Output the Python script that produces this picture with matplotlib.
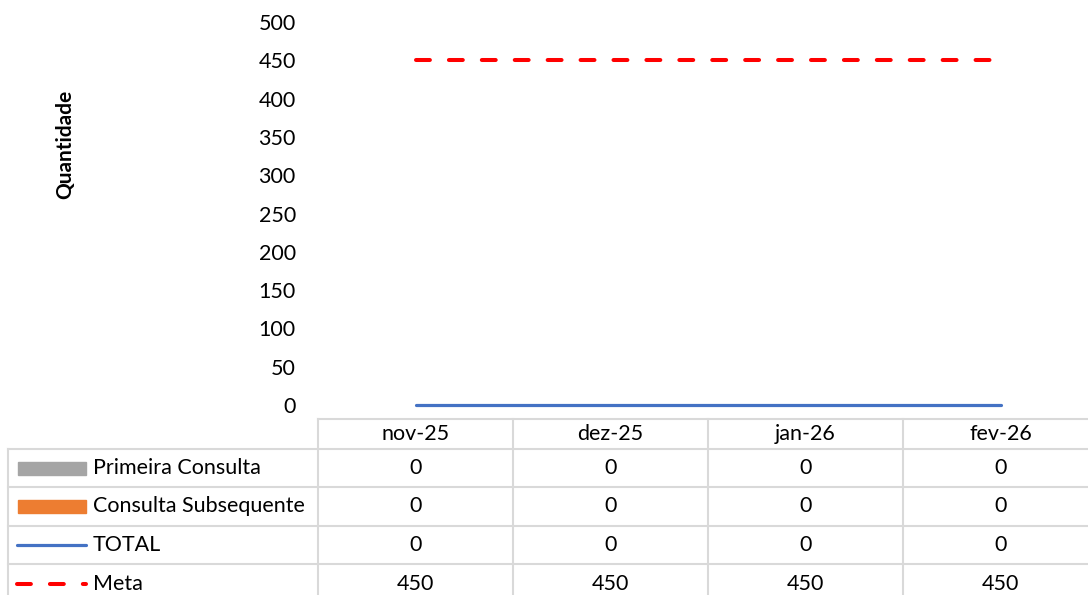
import numpy as np
import matplotlib.pyplot as plt
from matplotlib.lines import Line2D
from matplotlib.patches import Rectangle
import matplotlib.transforms as mtransforms

plt.rcParams['font.family'] = ['Lato', 'DejaVu Sans']
plt.rcParams['lines.scale_dashes'] = False

meses = ['nov-25', 'dez-25', 'jan-26', 'fev-26']
primeira = [0, 0, 0, 0]
subsequente = [0, 0, 0, 0]
total = [0, 0, 0, 0]
meta = [450, 450, 450, 450]
series_names = ['Primeira Consulta', 'Consulta Subsequente', 'TOTAL', 'Meta']

W, H = 1088, 595
fig = plt.figure(figsize=(W / 100, H / 100), dpi=100)
fs = 15.5

# plot area in pixels (right edge goes past the picture, as in the source)
x0, x1, ytop, ybot = 318, 1098, 22, 405
ax = fig.add_axes([x0 / W, 1 - ybot / H, (x1 - x0) / W, (ybot - ytop) / H])
x = np.arange(len(meses))

ax.bar(x - 0.15, primeira, width=0.3, color='#A5A5A5')
ax.bar(x + 0.15, subsequente, width=0.3, color='#ED7D31')
ax.plot(x, total, color='#4472C4', lw=2.3, solid_capstyle='round', clip_on=False)
ax.plot(x, meta, color='#FF0000', lw=2.9, dashes=(10, 13.7), dash_capstyle='round')

ax.set_xlim(-0.5, len(meses) - 0.5)
ax.set_ylim(0, 500)
ax.set_yticks(np.arange(0, 501, 50))
ax.tick_params(axis='y', length=0, pad=16, labelsize=fs, labelcolor='#000000')
ax.set_xticks([])
for s in ax.spines.values():
    s.set_visible(False)

fig.text(65 / W, 1 - 144 / H, 'Quantidade', rotation=90, ha='center', va='center',
         fontsize=15, fontweight='bold')

# data table below the plot
grid = '#D9D9D9'
rows_y = [419, 449, 487, 526, 564, 603]
col_x = [x0 + i * (x1 - x0) / len(meses) for i in range(len(meses) + 1)]

def fx(px):
    return px / W

def fy(py):
    return 1 - py / H

# horizontal lines
fig.add_artist(Line2D([fx(x0), fx(x1)], [fy(rows_y[0])] * 2, color=grid, lw=1.5))
for ry in rows_y[1:]:
    fig.add_artist(Line2D([fx(8), fx(x1)], [fy(ry)] * 2, color=grid, lw=1.5))
# vertical lines
fig.add_artist(Line2D([fx(8), fx(8)], [fy(rows_y[1]), fy(rows_y[-1])], color=grid, lw=1.5))
for cx in col_x:
    fig.add_artist(Line2D([fx(cx), fx(cx)], [fy(rows_y[0]), fy(rows_y[-1])], color=grid, lw=1.5))

trans = mtransforms.blended_transform_factory(ax.transData, fig.transFigure)
for i, m in enumerate(meses):
    ax.text(i, fy((rows_y[0] + rows_y[1]) / 2), m, transform=trans, ha='center', va='center',
            fontsize=fs, clip_on=False)

valores = [primeira, subsequente, total, meta]
for r, vals in enumerate(valores):
    cy = fy((rows_y[r + 1] + rows_y[r + 2]) / 2)
    for i, v in enumerate(vals):
        ax.text(i, cy, str(v), transform=trans, ha='center', va='center', fontsize=fs, clip_on=False)
    fig.text(fx(93), cy, series_names[r], ha='left', va='center', fontsize=fs)

# legend keys
r0 = (rows_y[1] + rows_y[2]) / 2
r1 = (rows_y[2] + rows_y[3]) / 2
r2 = (rows_y[3] + rows_y[4]) / 2
r3 = (rows_y[4] + rows_y[5]) / 2
fig.add_artist(Rectangle((fx(18), fy(r0 + 6.5)), fx(68), 13 / H, color='#A5A5A5',
                         transform=fig.transFigure))
fig.add_artist(Rectangle((fx(18), fy(r1 + 6.5)), fx(68), 13 / H, color='#ED7D31',
                         transform=fig.transFigure))
fig.add_artist(Line2D([fx(17), fx(86)], [fy(r2)] * 2, color='#4472C4', lw=2.3,
                      solid_capstyle='round'))
fig.add_artist(Line2D([fx(17), fx(86)], [fy(r3)] * 2, color='#FF0000', lw=2.9,
                      dashes=(10, 13.7), dash_capstyle='round'))

fig.savefig('out.png', dpi=100)
